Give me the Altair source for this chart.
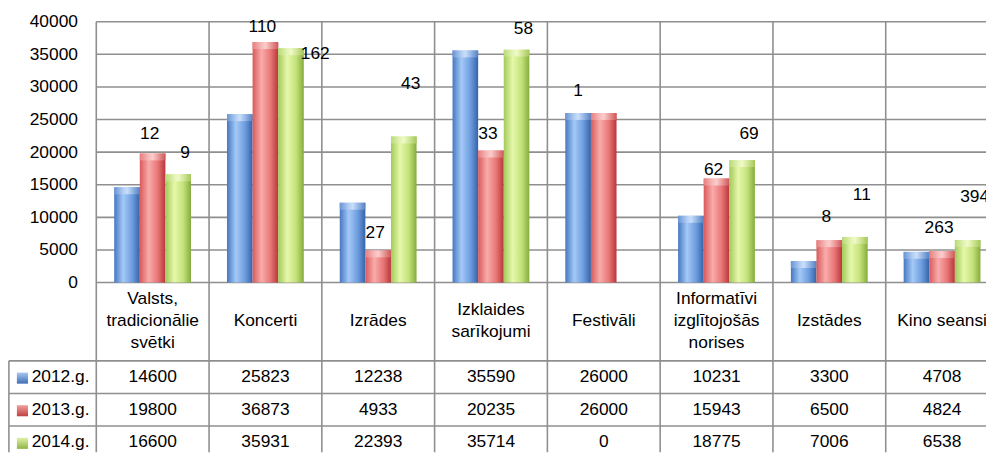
import altair as alt
import pandas as pd

# ---------------- data ----------------
categories = ["Valsts,\ntradicionālie\nsvētki", "Koncerti", "Izrādes", "Izklaides\nsarīkojumi",
              "Festivāli", "Informatīvi\nizglītojošās\nnorises", "Izstādes", "Kino seansi"]
series = ["2012.g.", "2013.g.", "2014.g."]
v2012 = [14600, 25823, 12238, 35590, 26000, 10231, 3300, 4708]
v2013 = [19800, 36873, 4933, 20235, 26000, 15943, 6500, 4824]
v2014 = [16600, 35931, 22393, 35714, 0, 18775, 7006, 6538]

label_text = ["12", "9", "110", "162", "43", "27", "33", "58", "1", "62", "69", "8", "11", "263", "394"]
label_cat = [0, 0, 1, 1, 2, 2, 3, 3, 4, 5, 5, 6, 6, 7, 7]
label_series = [1, 2, 1, 2, 2, 1, 1, 2, 0, 1, 2, 1, 2, 1, 2]
label_value = [22800, 19900, 39200, 35000, 30400, 7600, 22800, 38800, 29400, 17300, 22800, 10000, 13400, 8400, 13100]
label_place = ["top", "top", "top", "right", "top", "top", "top", "top", "top", "top", "top", "top", "top", "top", "top"]

y_ticks = [0, 5000, 10000, 15000, 20000, 25000, 30000, 35000, 40000]

# ---------------- layout constants ----------------
W, H = 986, 446
CAT_PX = 113.7
PLOT_LEFT = 89
PX_PER_VAL = 263 / 40000
TOP_PX = 12
XMIN = -PLOT_LEFT / CAT_PX
XMAX = XMIN + W / CAT_PX
YMAX = 40000 + TOP_PX / PX_PER_VAL
YMIN = YMAX - H / PX_PER_VAL
BAR_START, BAR_W = 0.159, 0.227
HEADER_Y = -5900
LINE_H = 22.5
ROW_H = 5000
HEADER_BOTTOM = -12000
CAP = 7 / PX_PER_VAL

FONT = "Liberation Sans, Arial, sans-serif"
FS = 17.5
GRID = "#8f8f8f"

xs = alt.Scale(domain=[XMIN, XMAX], nice=False, zero=False)
ys = alt.Scale(domain=[YMIN, YMAX], nice=False, zero=False)
yaxis = alt.Axis(values=y_ticks, offset=-PLOT_LEFT, domain=False, ticks=False, tickSize=0, grid=False,
                 labelPadding=19, labelFont=FONT, labelFontSize=FS, labelColor="#000000", title=None,
                 labelFlush=False, labelOverlap=False, format="d")


def X(f):
    return alt.X(f, type="quantitative", scale=xs, axis=None)


def Y(f):
    return alt.Y(f, type="quantitative", scale=ys, axis=yaxis)


def grad(stops, vertical=False):
    if vertical:
        return alt.LinearGradient(gradient="linear", x1=0, x2=0, y1=0, y2=1,
                                  stops=[alt.GradientStop(offset=o, color=c) for o, c in stops])
    return alt.LinearGradient(gradient="linear", x1=0, x2=1, y1=0, y2=0,
                              stops=[alt.GradientStop(offset=o, color=c) for o, c in stops])


fills = [
    grad([(0, "#4677c0"), (0.35, "#a3c9f7"), (0.7, "#6e9ddf"), (1, "#3563a8")]),
    grad([(0, "#d95a5a"), (0.35, "#f9abab"), (0.7, "#e97676"), (1, "#b8373a")]),
    grad([(0, "#a2c95a"), (0.35, "#e6f8aa"), (0.7, "#c3e27a"), (1, "#86ac3d")]),
]
caps = [
    grad([(0, "#6f9ad8"), (0.5, "#d3e6fd"), (1, "#5a86c8")]),
    grad([(0, "#e98585"), (0.5, "#fdd6d6"), (1, "#d45c5c")]),
    grad([(0, "#bcdc7e"), (0.5, "#f4fccf"), (1, "#a9cc5e")]),
]
keys = [
    grad([(0, "#a8c8f0"), (1, "#3f6fb6")], vertical=True),
    grad([(0, "#f2a0a0"), (1, "#bf3f3f")], vertical=True),
    grad([(0, "#e0f2a6"), (1, "#8fb346")], vertical=True),
]

vals = [v2012, v2013, v2014]
rows = []
for s, name in enumerate(series):
    for i, cat in enumerate(categories):
        rows.append({"idx": i, "s": s, "series": name, "value": vals[s][i]})
long_df = pd.DataFrame(rows)
cat_df = pd.DataFrame({"idx": list(range(len(categories))), "cat": categories})
lab_df = pd.DataFrame({"idx": label_cat, "s": label_series, "text": label_text,
                       "lv": label_value, "place": label_place})

layers = []

# horizontal gridlines
grid_df = pd.DataFrame({"v": y_ticks})
layers.append(alt.Chart(grid_df).mark_rule(color=GRID, strokeWidth=1.6).encode(
    x=alt.X("a:Q", scale=xs, axis=None), x2="b:Q", y=Y("v")
).transform_calculate(a="0", b=str(XMAX)))

# table horizontal lines
tl_df = pd.DataFrame({"v": [HEADER_BOTTOM, HEADER_BOTTOM - ROW_H, HEADER_BOTTOM - 2 * ROW_H]})
layers.append(alt.Chart(tl_df).mark_rule(color=GRID, strokeWidth=1.6).encode(
    x=alt.X("a:Q", scale=xs, axis=None), x2="b:Q", y=Y("v")
).transform_calculate(a=str(XMIN + 0.008), b=str(XMAX)))

# vertical lines
vl_df = pd.DataFrame({"u": list(range(len(categories)))})
layers.append(alt.Chart(vl_df).mark_rule(color=GRID, strokeWidth=1.6).encode(
    x=X("u"), y=alt.Y("t:Q", scale=ys, axis=yaxis), y2="b:Q"
).transform_calculate(t="40000", b=str(YMIN)))
# left border of row label column
layers.append(alt.Chart(pd.DataFrame({"u": [XMIN + 0.008]})).mark_rule(color=GRID, strokeWidth=1.6).encode(
    x=X("u"), y=alt.Y("t:Q", scale=ys, axis=yaxis), y2="b:Q"
).transform_calculate(t=str(HEADER_BOTTOM), b=str(YMIN)))

# bars with a light bevel cap
for s in range(3):
    base = alt.Chart(long_df).transform_filter(f"datum.s == {s} && datum.value > 0").transform_calculate(
        x0=f"datum.idx + {BAR_START} + datum.s * {BAR_W}",
        x1=f"datum.idx + {BAR_START} + (datum.s + 1) * {BAR_W}",
        z="0",
        c=f"datum.value - {CAP}",
    )
    layers.append(base.mark_rect(fill=fills[s], stroke=None).encode(
        x=X("x0"), x2="x1:Q", y=Y("value"), y2="z:Q"
    ))
    layers.append(base.mark_rect(fill=caps[s], stroke=None, opacity=0.85).encode(
        x=X("x0"), x2="x1:Q", y=Y("value"), y2="c:Q"
    ))

# bar data labels
for s, dx in [(0, 0), (1, -3), (2, 7)]:
    layers.append(alt.Chart(lab_df).transform_filter(f"datum.s == {s} && datum.place == 'top'").transform_calculate(
        xc=f"datum.idx + {BAR_START} + (datum.s + 0.5) * {BAR_W}"
    ).mark_text(font=FONT, fontSize=FS, color="#000000", baseline="middle", align="center", dx=dx).encode(
        x=X("xc"), y=Y("lv"), text="text:N"
    ))
layers.append(alt.Chart(lab_df).transform_filter("datum.place == 'right'").transform_calculate(
    xc=f"datum.idx + {BAR_START} + (datum.s + 1) * {BAR_W}"
).mark_text(font=FONT, fontSize=FS, color="#000000", baseline="middle", align="left", dx=-3).encode(
    x=X("xc"), y=Y("lv"), text="text:N"
))

# table header (multi-line block centred vertically)
layers.append(alt.Chart(cat_df).transform_calculate(
    xc="datum.idx + 0.5",
    yc=f"{HEADER_Y} + (split(datum.cat, '\\n').length - 1) / 2 * {LINE_H / PX_PER_VAL}",
).mark_text(
    font=FONT, fontSize=FS, color="#000000", baseline="middle", align="center", lineBreak="\n", lineHeight=LINE_H
).encode(x=X("xc"), y=Y("yc"), text="cat:N"))

# table cells
layers.append(alt.Chart(long_df).transform_calculate(
    xc="datum.idx + 0.5", yc=f"{HEADER_BOTTOM} - (datum.s + 0.5) * {ROW_H}"
).mark_text(font=FONT, fontSize=FS, color="#000000", baseline="middle", align="center").encode(
    x=X("xc"), y=Y("yc"), text="value:Q"
))

# row labels + legend keys
ser_df = pd.DataFrame({"s": [0, 1, 2], "series": series})
layers.append(alt.Chart(ser_df).transform_calculate(
    xc=str(XMIN + 0.21), yc=f"{HEADER_BOTTOM} - (datum.s + 0.5) * {ROW_H}"
).mark_text(font=FONT, fontSize=FS, color="#000000", baseline="middle", align="left").encode(
    x=X("xc"), y=Y("yc"), text="series:N"
))
for s in range(3):
    layers.append(alt.Chart(ser_df).transform_filter(f"datum.s == {s}").transform_calculate(
        xc=str(XMIN + 0.128), yc=f"{HEADER_BOTTOM} - (datum.s + 0.5) * {ROW_H} - 150"
    ).mark_square(size=125, fill=keys[s], opacity=1, stroke=None).encode(
        x=X("xc"), y=Y("yc")
    ))

chart = alt.layer(*layers).properties(
    width=W, height=H,
    autosize=alt.AutoSizeParams(type="none"),
    padding={"left": 0, "top": 0, "right": 0, "bottom": 0},
).configure_view(stroke=None)

chart.save("out.html", embed_options={"renderer": "svg", "actions": False})
